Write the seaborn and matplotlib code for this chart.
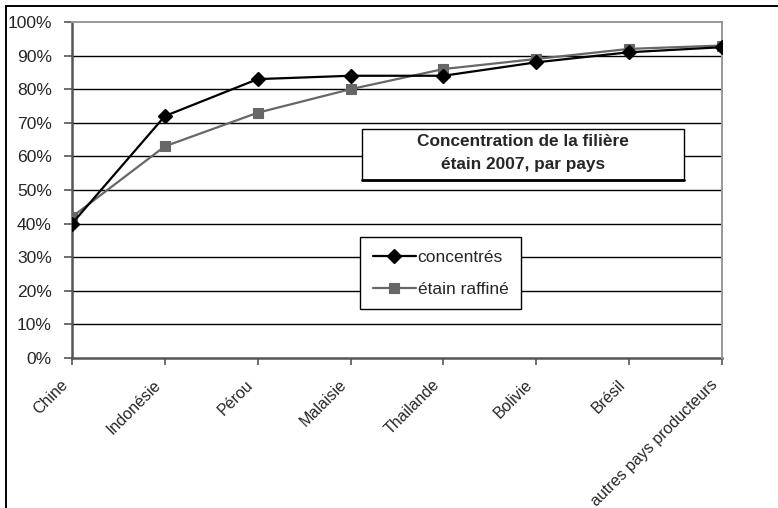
import matplotlib
matplotlib.use("Agg")
import matplotlib.pyplot as plt
import seaborn as sns
import pandas as pd
from matplotlib.patches import Rectangle
from matplotlib.lines import Line2D
from matplotlib.ticker import FuncFormatter, MultipleLocator
from matplotlib.transforms import ScaledTranslation

# Cumulative share of world output, by country (percent)
pays = ["Chine", "Indonésie", "Pérou", "Malaisie", "Thailande",
        "Bolivie", "Brésil", "autres pays producteurs"]
concentres = [40, 72, 83, 84, 84, 88, 91, 92.5]
raffine = [42, 63, 73, 80, 86, 89, 92, 93]
series_names = ["concentrés", "étain raffiné"]
title_lines = ["Concentration de la filière", "étain 2007, par pays"]

sns.set_style("white")
plt.rcParams["font.family"] = ["Liberation Sans", "DejaVu Sans"]

W, H = 778, 508
fig = plt.figure(figsize=(W / 100, H / 100), dpi=100)
ax = fig.add_axes([72 / W, 1 - 358 / H, (722 - 72) / W, (358 - 22) / H])

df = pd.DataFrame({"pays": pays, "pos": range(len(pays)),
                   series_names[0]: concentres, series_names[1]: raffine})

sns.lineplot(data=df, x="pos", y=series_names[0], ax=ax, color="#000000",
             linewidth=1.6, marker="D", markersize=7.2, markeredgewidth=1,
             markeredgecolor="#000000", label=series_names[0], zorder=4)
sns.lineplot(data=df, x="pos", y=series_names[1], ax=ax, color="#676767",
             linewidth=1.6, marker="s", markersize=7.6, markeredgewidth=0.8,
             markeredgecolor="#676767", label=series_names[1], zorder=3)

ax.set_xlim(0, len(pays) - 1)
ax.set_ylim(0, 100)
ax.yaxis.set_major_locator(MultipleLocator(10))
ax.yaxis.set_major_formatter(FuncFormatter(lambda v, p: f"{v:.0f}%"))
ax.set_xticks(range(len(pays)))
ax.set_xticklabels(pays, rotation=45, ha="right", rotation_mode="anchor",
                   fontsize=11.5)
ax.tick_params(axis="y", labelsize=12.6, length=6, width=1.2,
               color="#555555", pad=8.5, left=True)
ax.tick_params(axis="x", length=5, width=1.2, color="#555555", pad=3,
               bottom=True)
# Nudge the slanted category labels down and to the left
shift = ScaledTranslation(-0.12, -0.08, fig.dpi_scale_trans)
for lbl in ax.get_xticklabels():
    lbl.set_transform(lbl.get_transform() + shift)
ax.set_xlabel("")
ax.set_ylabel("")

# Horizontal gridlines at every 10 %
for v in range(10, 100, 10):
    ax.axhline(v, color="#000000", linewidth=1.0, zorder=1)

for side in ["left", "bottom"]:
    ax.spines[side].set_color("#555555")
    ax.spines[side].set_linewidth(1.8)
    ax.spines[side].set_zorder(2)
for side in ["top", "right"]:
    ax.spines[side].set_color("#999999")
    ax.spines[side].set_linewidth(1.4)

# Legend box
leg = ax.legend(loc="upper left",
                bbox_to_anchor=(360 / W, 1 - 237 / H),
                bbox_transform=fig.transFigure,
                frameon=True, fancybox=False, edgecolor="#000000",
                framealpha=1, fontsize=12.5, handlelength=2.5,
                handletextpad=0.1, borderpad=0.72, labelspacing=0.98,
                borderaxespad=0)
leg.get_frame().set_linewidth(1.0)
leg.set_zorder(6)

# Title box with a heavier bottom edge
x0, y0, x1, y1 = 362, 129, 684, 180
fig.add_artist(Rectangle((x0 / W, 1 - y1 / H), (x1 - x0) / W, (y1 - y0) / H,
                         transform=fig.transFigure, facecolor="white",
                         edgecolor="#000000", linewidth=1.0, zorder=5))
fig.add_artist(Line2D([x0 / W, x1 / W], [1 - y1 / H, 1 - y1 / H],
                      transform=fig.transFigure, color="#000000",
                      linewidth=2.0, zorder=6))
fig.text((x0 + x1) / 2 / W, 1 - 142 / H, title_lines[0], ha="center",
         va="center", fontsize=12.4, fontweight="bold", zorder=7)
fig.text((x0 + x1) / 2 / W, 1 - 164.5 / H, title_lines[1], ha="center",
         va="center", fontsize=12.4, fontweight="bold", zorder=7)

# Outer frame (top and left edges)
fig.add_artist(Line2D([6 / W, 1], [1 - 6 / H, 1 - 6 / H],
                      transform=fig.transFigure, color="#000000", linewidth=1.4))
fig.add_artist(Line2D([6 / W, 6 / W], [0, 1 - 6 / H],
                      transform=fig.transFigure, color="#000000", linewidth=1.4))

fig.savefig("out.png", dpi=100)
